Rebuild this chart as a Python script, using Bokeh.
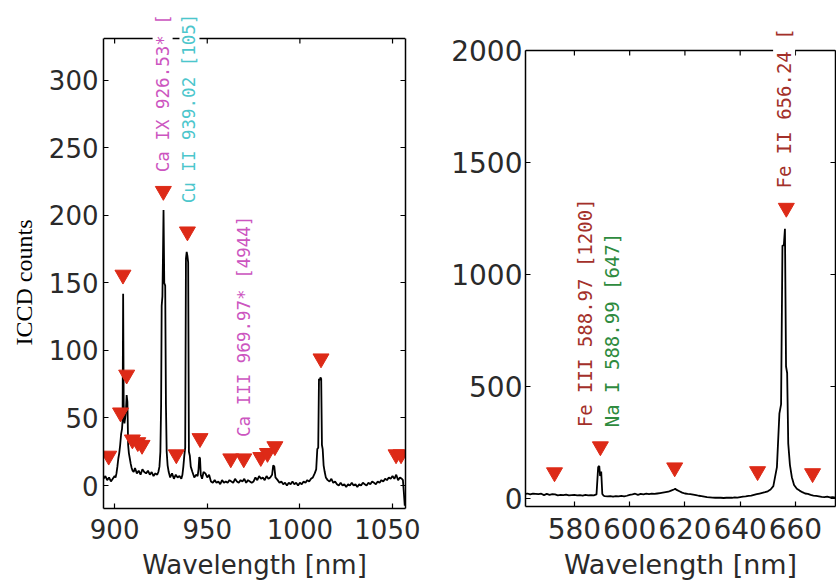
import math
from bokeh.plotting import figure
from bokeh.models import (ColumnDataSource, LabelSet, LinearAxis, FixedTicker, Range1d,
                          Span, Title)
from bokeh.layouts import row, column
from bokeh.core.properties import value
from bokeh.embed import file_html
from bokeh.resources import INLINE

# ---------------- data: left panel (900-1050 nm) ----------------
left_wl = [894, 895, 896, 897, 898, 899, 900, 900.5, 901, 901.5, 902, 902.5, 903, 903.5,
           904, 904.3, 904.6, 904.9, 905.3, 905.7, 906.1, 906.5, 906.9, 907.3, 907.7, 908.2,
           908.7, 909.2, 909.7, 910.3, 911, 912, 913, 914, 915, 916, 917, 918, 919, 920,
           921, 922, 923, 923.6, 924.2, 924.7, 925.1, 925.4, 925.8, 926.1, 926.4, 926.8,
           927.3, 927.7, 928.1, 928.6, 929.2, 930, 931, 932, 933, 934, 935, 936, 936.6,
           937.1, 937.6, 938.1, 938.5, 938.9, 939.3, 939.7, 940.1, 940.6, 941.1, 942, 943,
           944, 944.8, 945.3, 945.7, 946.1, 946.5, 947.2, 948, 949, 950, 951, 952, 953,
           954, 955, 956, 957, 958, 959, 960, 961, 962, 963, 964, 965, 966, 967, 968, 969,
           970, 971, 972, 973, 974, 975, 976, 977, 978, 979, 980, 981, 982, 983, 984, 985,
           985.6, 986.2, 986.8, 988, 989, 990, 991, 992, 993, 994, 995, 996, 997, 998, 999,
           1000, 1001, 1002, 1003, 1004, 1005, 1006, 1007, 1008, 1008.8, 1009.4, 1009.9,
           1010.3, 1010.7, 1011.1, 1011.5, 1011.9, 1012.3, 1012.8, 1013.4, 1014, 1015,
           1016, 1017, 1018, 1019, 1020, 1021, 1022, 1023, 1024, 1025, 1026, 1027, 1028,
           1029, 1030, 1031, 1032, 1033, 1034, 1035, 1036, 1037, 1038, 1039, 1040, 1041,
           1042, 1043, 1044, 1045, 1046, 1047, 1048, 1049, 1050, 1051, 1052, 1053, 1054,
           1055, 1055.6, 1056.1, 1056.6]
left_counts = [5, 7, 4, 6, 3, 5, 7, 6, 9, 14, 20, 24, 30, 38,
               42, 48, 142, 60, 46, 50, 55, 67, 62, 30, 24, 20,
               16, 13, 11, 10, 13, 9, 11, 8, 12, 10, 9, 11, 8, 10,
               7, 9, 8, 10, 14, 25, 60, 133, 140, 170, 204, 150,
               148, 60, 25, 15, 10, 6, 9, 5, 8, 6, 7, 5, 8,
               14, 22, 28, 168, 173, 170, 165, 25, 22, 14, 10, 6,
               8, 7, 12, 21, 20, 8, 5, 10, 9, 6, 8, 3, 2,
               4, 2, 3, 1, 4, 2, 3, 2, 4, 3, 2, 5, 3, 2, 4, 3,
               5, 2, 4, 3, 2, 3, 6, 4, 7, 5, 6, 4, 7, 5, 6, 8,
               15, 14, 6, 4, 2, 3, 1, 2, 0, 2, 1, 3, 1, 2, 0,
               2, 1, 3, 2, 4, 3, 5, 6, 9, 12, 27, 28,
               79, 78, 80, 79, 30, 27, 15, 10, 6, 4,
               3, 5, 2, 3, 1, 0, 2, 0, 1, -1, 1, 0, 2,
               0, 1, -1, 1, 0, 2, 1, 0, 2, 1, 3, 2, 1,
               3, 2, 4, 3, 5, 4, 6, 5, 7, 5, 8, 4, 6,
               5, 4, -5, -15]
left_marker_wl = [896.8, 903.2, 904.5, 906.5, 909.6, 912.5, 914.8, 926.3, 933.3, 939.3,
                  946.1, 962.7, 969.7, 978.9, 982.5, 986.5, 1011.4, 1051.9, 1054.6]
left_marker_counts = [22, 54, 156, 82, 34, 32, 30, 218, 23, 188,
                      35, 20, 20, 21, 24, 29, 94, 23, 23]
left_label_wl = [925.9, 940.4, 969.7]
left_label_counts = [232, 209, 36]
left_label_text = ["Ca IX 926.53* [", "Cu II 939.02 [105]", "Ca III 969.97* [4944]"]
left_label_colors = ["#cc55c0", "#4cc6cc", "#cc55c0"]
left_xticks = [900, 950, 1000, 1050]
left_yticks = [0, 50, 100, 150, 200, 250, 300]
left_xlim = (894, 1057)
left_ylim = (-17, 331)

# ---------------- data: right panel (560-675 nm) ----------------
right_wl = [562.3, 563, 564, 565, 566, 567, 568, 569, 570, 571, 572, 573, 574, 575, 576,
            577, 578, 579, 580, 581, 582, 583, 584, 585, 586, 587, 588, 588.6, 589.0,
            589.3, 589.7, 590.1, 590.6, 591, 592, 593, 594, 595, 596, 597, 598, 599, 600,
            601, 602, 603, 604, 605, 606, 607, 608, 609, 610, 611, 612, 613, 614, 615, 616,
            616.5, 617, 618, 619, 620, 621, 622, 623, 624, 625, 626, 627, 628, 629, 630,
            631, 632, 633, 634, 635, 636, 637, 638, 639, 640, 641, 642, 643, 644, 645, 646,
            647, 648, 649, 650, 651, 652, 653.3, 654.2, 654.8, 655.3, 655.8, 656.2, 656.6,
            657.0, 657.4, 658.0, 658.7, 659.5, 660.5, 661.5, 662.5, 663.5, 664.5, 665.5,
            666.5, 667.5, 668.5, 669.5, 670.5, 671.5, 672.5, 673.5, 674.5]
right_counts = [20, 22, 18, 21, 20, 19, 21, 15, 20, 16, 19, 18, 14, 16, 15,
                17, 14, 15, 16, 14, 15, 13, 16, 14, 15, 14, 18, 140, 145,
                100, 120, 20, 12, 10, 9, 10, 8, 10, 9, 11, 9, 12, 16,
                18, 21, 16, 20, 18, 21, 19, 21, 20, 22, 24, 26, 28, 30, 35, 40,
                43, 38, 32, 26, 22, 20, 19, 17, 15, 12, 10, 8, 6, 5, 4,
                3, 4, 3, 2, 3, 4, 3, 5, 4, 6, 8, 9, 11, 13, 16, 19,
                22, 25, 28, 32, 40, 55, 140, 380, 420, 1129, 1130, 1204, 589,
                560, 245, 150, 95, 60, 43, 35, 28, 22, 20, 16,
                13, 11, 9, 7, 6, 8, 5, 6, 4]
right_marker_wl = [572.8, 589.4, 616.3, 646.3, 656.7, 666.2]
right_marker_counts = [116, 232, 138, 121, 1297, 112]
right_label_wl = [583.7, 593.6, 655.9]
right_label_counts = [318, 318, 1384]
right_label_text = ["Fe III 588.97 [1200]", "Na I 588.99 [647]", "Fe II 656.24 ["]
right_label_colors = ["#a3302a", "#2e8b3e", "#a3302a"]
right_xticks = [580, 600, 620, 640, 660]
right_yticks = [0, 500, 1000, 1500, 2000]
right_xlim = (562.3, 674.5)
right_ylim = (-36, 2000)

TICK_FONT = "DejaVu Sans"
TEXT_COLOR = "#2a2a2a"
TICK_LEN = 5  # pixels


def make_panel(wl, counts, mwl, mcounts, lwl, lcounts, ltext, lcolors,
               xlim, ylim, xticks, yticks, width, height, frame_top, frame_bottom,
               border_lr, tick_size, label_size, ann_size, standoffs, ylabel=None):
    # the frame reaches the top of the canvas so that labels can rise above the box;
    # the box's top edge is drawn as a span at ylim[1]
    px_per_unit = (frame_bottom - frame_top) / (ylim[1] - ylim[0])
    y_top = ylim[1] + frame_top / px_per_unit
    bl, br = border_lr
    p = figure(width=width, height=height, x_range=Range1d(*xlim),
               y_range=Range1d(ylim[0], y_top),
               output_backend="svg", toolbar_location=None,
               min_border_left=bl, min_border_right=br, min_border_top=0,
               min_border_bottom=height - frame_bottom,
               x_axis_location=None, y_axis_location=None)
    p.outline_line_color = None
    p.grid.visible = False
    p.background_fill_color = "white"
    p.border_fill_color = "white"

    xs_off, xl_off, ys_off = standoffs
    axes = {}
    for side in ("left", "below", "right"):
        ticks = yticks if side in ("left", "right") else xticks
        ax = LinearAxis(ticker=FixedTicker(ticks=ticks))
        if side in ("left", "right"):
            ax.bounds = ylim
        ax.axis_line_color = "black"
        ax.axis_line_width = 1.5
        ax.major_tick_line_color = "black"
        ax.major_tick_line_width = 1.2
        ax.major_tick_in = TICK_LEN
        ax.major_tick_out = 0
        ax.minor_tick_line_color = None
        ax.major_label_text_font = TICK_FONT
        ax.major_label_text_color = TEXT_COLOR
        ax.major_label_text_font_size = tick_size
        if side == "right":
            ax.major_label_text_color = None
            ax.major_label_text_font_size = "1px"
            ax.major_label_standoff = 0
        p.add_layout(ax, side)
        axes[side] = ax

    axes["below"].major_label_standoff = xs_off
    axes["below"].axis_label = "Wavelength [nm]"
    axes["below"].axis_label_text_font = TICK_FONT
    axes["below"].axis_label_text_font_size = label_size
    axes["below"].axis_label_text_font_style = "normal"
    axes["below"].axis_label_text_color = TEXT_COLOR
    axes["below"].axis_label_standoff = xl_off
    axes["left"].major_label_standoff = ys_off
    if ylabel:
        p.add_layout(Title(text=ylabel, align="left", offset=163, standoff=17,
                           text_font="Liberation Serif", text_font_size="24px",
                           text_font_style="normal", text_color="black"), "left")

    # top edge of the box and its inward ticks
    p.add_layout(Span(location=ylim[1], dimension="width", line_color="black",
                      line_width=1.5))
    tick_units = TICK_LEN / px_per_unit
    p.segment(x0=xticks, y0=[ylim[1]] * len(xticks), x1=xticks,
              y1=[ylim[1] - tick_units] * len(xticks), line_color="black", line_width=1.2)

    p.line(wl, counts, line_color="black", line_width=1.8)
    p.scatter(mwl, mcounts, marker="inverted_triangle", size=16,
              fill_color="#dd2a17", line_color="#dd2a17")

    src = ColumnDataSource(dict(x=lwl, y=lcounts, text=ltext, color=lcolors))
    labels = LabelSet(x="x", y="y", text="text", source=src, angle=math.pi / 2,
                      text_align="left", text_baseline="middle",
                      text_font=value("DejaVu Sans Mono"), text_font_size=ann_size,
                      text_color="color", background_fill_color="white")
    p.add_layout(labels)
    return p


p_left = make_panel(left_wl, left_counts, left_marker_wl, left_marker_counts,
                    left_label_wl, left_label_counts, left_label_text, left_label_colors,
                    left_xlim, left_ylim, left_xticks, left_yticks,
                    420, 582, 38, 509, (103, 15), "26px", "26px", "17.5px",
                    (10, 8, 5), ylabel="ICCD counts")
p_right = make_panel(right_wl, right_counts, right_marker_wl, right_marker_counts,
                     right_label_wl, right_label_counts, right_label_text, right_label_colors,
                     right_xlim, right_ylim, right_xticks, right_yticks,
                     416, 582, 50, 506, (105, 1), "28px", "27px", "19px",
                     (11, 7, 3))

layout = row(column(p_left), column(p_right))
open("out.html", "w").write(file_html(layout, INLINE))
